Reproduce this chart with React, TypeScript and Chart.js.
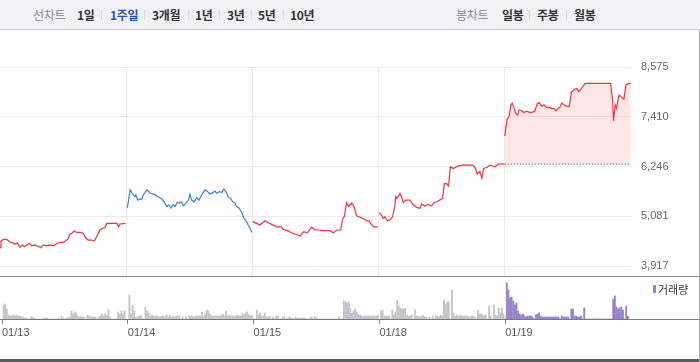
import React, { useEffect, useRef } from 'react';
import { Chart, registerables } from 'chart.js';

Chart.register(...registerables);

// ---- data ----
const dates = ['01/13', '01/14', '01/15', '01/18', '01/19'];
const minutesPerDay = 390; // 09:00 - 15:30
const yTicks = [3917, 5081, 6246, 7410, 8575];
const priceMin = 3660;
const priceMax = 8575;
const prevClose = 6300;

// minutes since 09:00 / price (KRW)
const day1Times = [0, 3, 10, 21, 29, 39, 46, 53, 62, 69, 75, 83, 91, 98, 106, 115, 126, 134, 144, 155, 165, 175, 185, 196, 206, 211, 216, 222, 229, 237, 247, 257, 266, 273, 283, 291, 299, 309, 317, 324, 330, 345, 361, 366, 371, 388];
const day1Prices = [4345, 4500, 4540, 4540, 4485, 4460, 4425, 4460, 4355, 4410, 4370, 4410, 4450, 4390, 4410, 4390, 4345, 4410, 4390, 4410, 4390, 4440, 4470, 4470, 4525, 4565, 4660, 4685, 4735, 4705, 4705, 4685, 4565, 4525, 4525, 4500, 4605, 4760, 4800, 4815, 4915, 4915, 4915, 4835, 4900, 4915];

const day2Times = [3, 6, 12, 17, 22, 27, 30, 36, 43, 48, 53, 58, 65, 74, 84, 94, 102, 110, 117, 125, 132, 138, 146, 151, 158, 164, 171, 176, 185, 192, 197, 202, 210, 218, 225, 233, 243, 251, 259, 269, 274, 280, 288, 295, 302, 308, 315, 323, 329, 336, 341, 349, 357, 364, 372, 377, 383, 388];
const day2Prices = [5280, 5390, 5700, 5640, 5580, 5540, 5580, 5460, 5490, 5480, 5580, 5640, 5700, 5620, 5600, 5560, 5520, 5490, 5420, 5310, 5350, 5270, 5350, 5310, 5410, 5390, 5420, 5330, 5390, 5460, 5600, 5460, 5420, 5520, 5460, 5580, 5700, 5660, 5600, 5640, 5670, 5620, 5660, 5640, 5720, 5660, 5540, 5500, 5420, 5390, 5310, 5270, 5170, 5030, 4955, 4875, 4800, 4705];

const day3Times = [1, 13, 23, 39, 49, 64, 75, 90, 95, 111, 121, 131, 147, 159, 169, 183, 193, 203, 219, 239, 250, 262, 273, 279, 284, 291, 297, 307, 314, 322, 332, 342, 353, 361, 365, 375, 387];
const day3Prices = [4955, 4915, 4875, 4975, 4930, 4875, 4835, 4835, 4775, 4735, 4695, 4665, 4620, 4720, 4695, 4825, 4760, 4760, 4745, 4745, 4695, 4760, 4760, 5030, 5070, 5400, 5310, 5390, 5310, 5090, 5060, 5030, 4975, 4975, 4915, 4835, 4835];

const day4Times = [2, 9, 14, 19, 27, 35, 43, 50, 53, 57, 66, 71, 76, 84, 97, 107, 117, 128, 133, 143, 153, 164, 171, 181, 189, 198, 203, 210, 216, 222, 231, 246, 261, 277, 290, 298, 305, 313, 319, 325, 336, 344, 359, 370, 383, 389];
const day4Prices = [5170, 5110, 5030, 5070, 4975, 4995, 5070, 5310, 5540, 5500, 5620, 5540, 5400, 5460, 5460, 5350, 5290, 5270, 5370, 5320, 5360, 5320, 5400, 5420, 5460, 5500, 5840, 5850, 5790, 6240, 6200, 6260, 6280, 6280, 6280, 6230, 6070, 6130, 5970, 6200, 6230, 6280, 6240, 6300, 6310, 6300];

const day5Times = [0, 3, 7, 13, 19, 23, 28, 34, 40, 44, 52, 59, 67, 75, 83, 93, 100, 106, 114, 121, 129, 137, 145, 152, 158, 165, 170, 176, 183, 191, 199, 206, 214, 222, 228, 234, 242, 248, 327, 333, 336, 341, 345, 353, 361, 368, 374, 381, 389];
const day5Prices = [6960, 7140, 7350, 7410, 7690, 7730, 7630, 7490, 7450, 7570, 7550, 7510, 7540, 7520, 7510, 7550, 7710, 7740, 7660, 7690, 7630, 7630, 7600, 7600, 7550, 7610, 7630, 7730, 7690, 7660, 7650, 7990, 8050, 8070, 8000, 8040, 8130, 8190, 8190, 7800, 7310, 7690, 7610, 7920, 7870, 7820, 8150, 8190, 8190];

const dayColors = ['#f5333d', '#3a7fe0', '#f5333d', '#f5333d', '#f5333d'];

// volume per 5-minute bar (relative units)
const volumeInterval = 5;
const vol1 = [0, 14, 15, 10, 4, 3, 3, 4, 3, 4, 3, 3, 2, 2, 1, 1, 0, 0, 2, 2, 1, 0, 0, 0, 0, 0, 1, 1, 1, 0, 0, 0, 0, 0, 0, 1, 0, 3, 1, 0, 1, 1, 2, 8, 5, 7, 6, 3, 2, 3, 2, 2, 0, 4, 3, 2, 2, 2, 2, 0, 2, 3, 5, 3, 5, 3, 9, 2, 0, 0, 0, 0, 7, 5, 8, 5, 8, 0];
const vol2 = [0, 24, 5, 14, 8, 2, 2, 3, 4, 1, 0, 12, 8, 6, 3, 4, 3, 3, 3, 2, 2, 3, 3, 2, 4, 2, 4, 2, 3, 2, 3, 3, 3, 0, 2, 0, 2, 0, 3, 3, 3, 2, 3, 3, 3, 3, 7, 3, 5, 9, 8, 5, 3, 3, 3, 3, 3, 3, 4, 5, 3, 8, 3, 4, 3, 3, 3, 3, 4, 3, 3, 6, 4, 6, 7, 4, 3, 4];
const vol3 = [0, 0, 9, 4, 6, 3, 3, 6, 2, 2, 3, 0, 2, 0, 3, 3, 0, 0, 2, 2, 0, 1, 2, 1, 1, 0, 2, 1, 1, 1, 1, 1, 1, 0, 0, 1, 2, 0, 2, 1, 0, 0, 0, 0, 0, 0, 0, 0, 0, 0, 0, 0, 0, 2, 0, 0, 18, 17, 16, 17, 11, 6, 8, 10, 7, 5, 4, 3, 3, 3, 3, 3, 3, 3, 3, 3, 3, 4];
const vol4 = [0, 8, 9, 3, 3, 3, 3, 0, 9, 4, 7, 19, 13, 11, 10, 10, 11, 4, 3, 3, 4, 0, 9, 3, 3, 2, 3, 4, 2, 2, 0, 2, 0, 3, 0, 3, 3, 2, 4, 3, 19, 15, 17, 17, 0, 29, 6, 3, 4, 3, 4, 3, 3, 3, 3, 3, 2, 3, 3, 2, 0, 9, 5, 5, 4, 3, 4, 0, 13, 3, 0, 14, 4, 3, 11, 6, 11, 5];
const vol5 = [0, 36, 29, 21, 22, 18, 14, 16, 8, 5, 4, 5, 3, 2, 3, 3, 3, 2, 0, 4, 5, 6, 3, 2, 2, 2, 2, 2, 2, 2, 2, 2, 2, 2, 0, 3, 2, 2, 2, 2, 0, 10, 10, 3, 3, 2, 2, 3, 0, 11, 0, 0, 0, 0, 0, 0, 0, 0, 0, 0, 0, 0, 0, 0, 0, 0, 0, 20, 23, 12, 10, 11, 12, 9, 0, 13, 3, 0];
const volumeMax = 42;

const periodTabs = ['1일', '1주일', '3개월', '1년', '3년', '5년', '10년'];
const selectedPeriod = '1주일';
const candleTabs = ['일봉', '주봉', '월봉'];

// ---- layout constants ----
const W = 700;
const H = 362;
const HEADER_H = 30;
const PRICE_BOTTOM = 277;
const VOL_BASE = 319;
const AXIS_W = 69;
const periodX = [77, 110, 152, 195, 227, 258, 290];
const periodSepX = [101, 144, 188, 219, 251, 283];
const candleX = [502, 537, 574];
const candleSepX = [529, 566];

const tickFont = { family: '"Liberation Sans", Arial, sans-serif', size: 11 };

export default function App() {
  const priceRef = useRef<HTMLCanvasElement>(null);
  const volRef = useRef<HTMLCanvasElement>(null);

  useEffect(() => {
    const times = [day1Times, day2Times, day3Times, day4Times, day5Times];
    const prices = [day1Prices, day2Prices, day3Prices, day4Prices, day5Prices];
    const lineSets: any[] = times.map((ts, d) => ({
      type: 'line',
      data: ts.map((t, i) => ({ x: d * minutesPerDay + t, y: prices[d][i] })),
      borderColor: dayColors[d],
      borderWidth: 1.2,
      pointRadius: 0,
      tension: 0,
      fill: d === 4 ? { value: prevClose } : false,
      backgroundColor: d === 4 ? 'rgba(246, 60, 80, 0.13)' : 'transparent',
      order: 2,
    }));
    lineSets.push({
      type: 'line',
      data: [
        { x: 4 * minutesPerDay, y: prevClose },
        { x: 5 * minutesPerDay, y: prevClose },
      ],
      borderColor: '#444',
      borderWidth: 1,
      borderDash: [1, 2],
      pointRadius: 0,
      fill: false,
      order: 1,
    });

    const priceChart = new Chart(priceRef.current!, {
      type: 'line',
      data: { datasets: lineSets },
      options: {
        animation: false,
        responsive: false,
        maintainAspectRatio: false,
        events: [],
        layout: { autoPadding: false, padding: { top: 67 - HEADER_H, left: 0, right: 0, bottom: 0 } },
        plugins: { legend: { display: false }, tooltip: { enabled: false } },
        scales: {
          x: {
            type: 'linear',
            min: 0,
            max: dates.length * minutesPerDay,
            offset: false,
            afterBuildTicks: (s: any) => {
              s.ticks = dates.slice(1).map((_, d) => ({ value: (d + 1) * minutesPerDay }));
            },
            ticks: { display: false },
            grid: { color: '#ebebeb', drawTicks: false, offset: false },
            border: { display: false },
            afterFit: (s: any) => {
              s.height = 0;
              s.paddingLeft = 0;
              s.paddingRight = 0;
            },
          },
          y: {
            position: 'right',
            min: priceMin,
            max: priceMax,
            afterBuildTicks: (s: any) => {
              s.ticks = yTicks.map((v) => ({ value: v }));
            },
            ticks: {
              padding: 10,
              color: '#666',
              font: tickFont,
              callback: (v: any) => Number(v).toLocaleString('en-US'),
            },
            grid: { color: '#ebebeb', drawTicks: false },
            border: { display: false },
            afterFit: (s: any) => {
              s.width = AXIS_W;
              s.paddingTop = 0;
              s.paddingBottom = 0;
            },
          },
        },
      } as any,
    });

    const vols = [vol1, vol2, vol3, vol4];
    const pastData: any[] = [];
    vols.forEach((arr, d) =>
      arr.forEach((v, i) => pastData.push({ x: d * minutesPerDay + i * volumeInterval, y: v }))
    );
    const todayData = vol5.map((v, i) => ({ x: 4 * minutesPerDay + i * volumeInterval, y: v }));

    const volChart = new Chart(volRef.current!, {
      type: 'bar',
      data: {
        datasets: [
          { data: pastData, backgroundColor: '#c4c4ca', barThickness: 1.2, grouped: false } as any,
          { data: todayData, backgroundColor: '#9582c8', barThickness: 1.2, grouped: false } as any,
        ],
      },
      options: {
        animation: false,
        responsive: false,
        maintainAspectRatio: false,
        events: [],
        layout: { autoPadding: false, padding: { top: 0, left: 0, right: AXIS_W, bottom: 0 } },
        plugins: { legend: { display: false }, tooltip: { enabled: false } },
        scales: {
          x: {
            type: 'linear',
            min: 0,
            max: dates.length * minutesPerDay,
            offset: false,
            afterBuildTicks: (s: any) => {
              s.ticks = dates.map((_, d) => ({ value: d * minutesPerDay }));
            },
            ticks: {
              align: 'start',
              autoSkip: false,
              maxRotation: 0,
              padding: 2,
              color: '#555',
              font: tickFont,
              callback: (v: any) => dates[Math.round(Number(v) / minutesPerDay)],
            },
            grid: { drawOnChartArea: false, drawTicks: true, tickLength: 5, color: '#888', offset: false },
            border: { display: false },
            afterFit: (s: any) => {
              s.height = H - VOL_BASE;
            },
          },
          y: { display: false, min: 0, max: volumeMax },
        },
      } as any,
    });

    return () => {
      priceChart.destroy();
      volChart.destroy();
    };
  }, []);

  const headerFont = '"Noto Sans CJK KR", "Noto Sans", sans-serif';
  const tabStyle = (x: number, color: string, bold: boolean): React.CSSProperties => ({
    position: 'absolute',
    left: x,
    top: 0,
    height: 29,
    lineHeight: '29px',
    fontSize: 12,
    fontWeight: bold ? 700 : 400,
    color,
    fontFamily: headerFont,
    whiteSpace: 'nowrap',
    letterSpacing: -0.3,
  });
  const sepStyle = (x: number): React.CSSProperties => ({
    position: 'absolute',
    left: x,
    top: 10,
    width: 1,
    height: 10,
    background: '#d8d8dc',
  });

  return (
    <div style={{ position: 'relative', width: W, height: H, background: '#fff', overflow: 'hidden' }}>
      <style>{'body{margin:0;}'}</style>
      {/* header */}
      <div
        style={{
          position: 'absolute',
          left: 0,
          top: 0,
          width: W,
          height: 29,
          background: '#f2f2f5',
          borderBottom: '1px solid #cdcdd2',
        }}
      >
        <span style={tabStyle(33, '#888', false)}>선차트</span>
        {periodTabs.map((t, i) => (
          <span key={t} style={tabStyle(periodX[i], t === selectedPeriod ? '#2b4db3' : '#333', true)}>
            {t}
          </span>
        ))}
        {periodSepX.map((x) => (
          <div key={x} style={sepStyle(x)} />
        ))}
        <span style={tabStyle(456, '#888', false)}>봉차트</span>
        {candleTabs.map((t, i) => (
          <span key={t} style={tabStyle(candleX[i], '#333', true)}>
            {t}
          </span>
        ))}
        {candleSepX.map((x) => (
          <div key={x} style={sepStyle(x)} />
        ))}
      </div>

      <canvas
        ref={priceRef}
        width={W}
        height={PRICE_BOTTOM - HEADER_H}
        style={{ position: 'absolute', left: 0, top: HEADER_H, width: W, height: PRICE_BOTTOM - HEADER_H }}
      />
      <canvas
        ref={volRef}
        width={W}
        height={H - PRICE_BOTTOM}
        style={{ position: 'absolute', left: 0, top: PRICE_BOTTOM, width: W, height: H - PRICE_BOTTOM }}
      />

      {/* separators */}
      <div style={{ position: 'absolute', left: 0, top: 276, width: W, height: 1, background: '#8a8a8e' }} />
      <div style={{ position: 'absolute', left: 0, top: VOL_BASE, width: W, height: 1, background: '#7a7a7e' }} />
      <div style={{ position: 'absolute', left: 0, top: 359, width: W, height: 3, background: '#5a5a5e' }} />
      <div style={{ position: 'absolute', left: W - 1, top: HEADER_H, width: 1, height: H - HEADER_H, background: '#b0b0b4' }} />

      {/* volume legend */}
      <div style={{ position: 'absolute', left: 653, top: 285, width: 3, height: 8, background: '#9582c8' }} />
      <div
        style={{
          position: 'absolute',
          left: 658,
          top: 282,
          fontSize: 11,
          lineHeight: '14px',
          color: '#333',
          fontFamily: headerFont,
        }}
      >
        거래량
      </div>
    </div>
  );
}
